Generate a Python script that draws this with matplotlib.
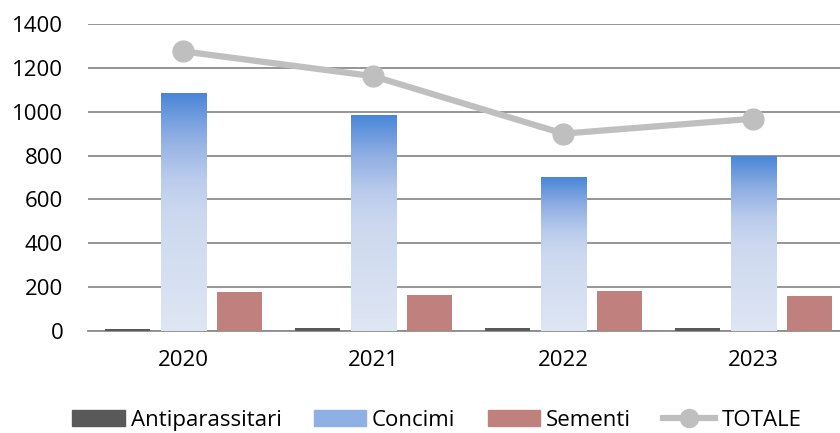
import matplotlib.pyplot as plt
import numpy as np
from matplotlib.colors import LinearSegmentedColormap
from matplotlib.patches import Patch
from matplotlib.lines import Line2D

plt.rcParams['font.family'] = ['Open Sans', 'DejaVu Sans']

years = ['2020', '2021', '2022', '2023']
antiparassitari = [10, 12, 12, 14]
concimi = [1085, 985, 702, 798]
sementi = [178, 164, 182, 160]
totale = [1275, 1162, 900, 968]

fig = plt.figure(figsize=(8.4, 4.33), dpi=100)
ax = fig.add_axes([0.105, 0.2356, 0.905, 0.709])

x = np.arange(len(years))
w = 0.237
off = 0.295

ax.bar(x - off, antiparassitari, w, color='#595959', zorder=3)
# gradient bars for Concimi
cmap = LinearSegmentedColormap.from_list(
    'conc', [(0, '#dfe6f4'), (0.5, '#ccd8ef'), (0.65, '#b9cbec'), (0.82, '#8eaee3'), (1, '#4a86d8')])
grad = np.linspace(0, 1, 256).reshape(-1, 1)
for xi, v in zip(x, concimi):
    ax.imshow(grad, extent=[xi - w / 2, xi + w / 2, 0, v], origin='lower',
              aspect='auto', cmap=cmap, zorder=3)
ax.bar(x + off, sementi, w, color='#bf807e', zorder=3)
ax.plot(x, totale, color='#bfbfbf', lw=4.5, marker='o', markersize=15, zorder=4)

ax.set_xlim(-0.5, len(years) - 0.5)
ax.set_ylim(0, 1400)
ax.set_yticks(range(0, 1401, 200))
ax.set_xticks(x)
ax.set_xticklabels(years)
ax.grid(axis='y', color='#8c8c8c', lw=1.3, zorder=0)
ax.set_axisbelow(True)
for s in ['top', 'right', 'left']:
    ax.spines[s].set_visible(False)
ax.spines['bottom'].set_color('#8c8c8c')
ax.spines['bottom'].set_linewidth(1.3)
ax.tick_params(axis='both', length=0, labelsize=16, colors='black')
ax.tick_params(axis='x', pad=14)
ax.tick_params(axis='y', pad=18)

handles = [Patch(color='#595959', label='Antiparassitari'),
           Patch(color='#8fb0e4', label='Concimi'),
           Patch(color='#bf807e', label='Sementi'),
           Line2D([], [], color='#bfbfbf', lw=4.5, marker='o', markersize=13, label='TOTALE')]
fig.legend(handles=handles, loc='center', bbox_to_anchor=(0.52, 0.03), ncol=4,
           frameon=False, fontsize=16, handlelength=2.35, columnspacing=1.45,
           handletextpad=0.27, borderpad=0)

fig.savefig('out.png', dpi=100)
